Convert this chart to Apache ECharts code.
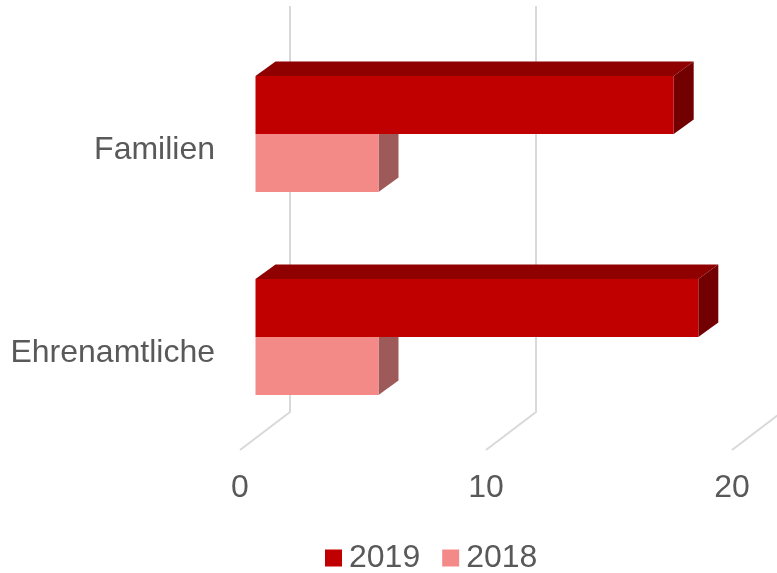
<!DOCTYPE html>
<html>
<head>
<meta charset="utf-8">
<style>
  html, body { margin: 0; padding: 0; background: #fff; }
  #main { width: 777px; height: 573px; }
</style>
<script src="https://cdn.jsdelivr.net/npm/echarts@6/dist/echarts.min.js"></script>
</head>
<body>
<div id="main"></div>
<script>
const categories = ['Familien', 'Ehrenamtliche'];
const values2019 = [17, 18];
const values2018 = [5, 5];
const xTicks = [0, 10, 20];

const chart = echarts.init(document.getElementById('main'), null, {renderer: 'canvas'});

// fake 3d: offsets of the box walls, in pixels
const wallX = 50, wallY = -38;
const barX = 15.5;
const depthX = 20, depthY = -14.5;
const barH = 58;

const box = (color, top, side, dir) => (params, api) => {
  const start = api.coord([0, api.value(1)]);
  const end = api.coord([api.value(0), api.value(1)]);
  const x0 = start[0] + barX;
  const x1 = end[0] + barX;
  const y0 = dir < 0 ? start[1] - barH : start[1];
  const y1 = y0 + barH;
  return {
    type: 'group',
    children: [
      {type: 'polygon', shape: {points: [[x0, y0], [x1, y0], [x1 + depthX, y0 + depthY], [x0 + depthX, y0 + depthY]]}, style: {fill: top}},
      {type: 'polygon', shape: {points: [[x1, y0], [x1 + depthX, y0 + depthY], [x1 + depthX, y1 + depthY], [x1, y1]]}, style: {fill: side}},
      {type: 'rect', shape: {x: x0, y: y0, width: x1 - x0, height: barH}, style: {fill: color}}
    ]
  };
};

const wall = (params, api) => {
  const x = api.coord([api.value(0), 0])[0];
  const floor = params.coordSys.y + params.coordSys.height + 11.5;
  const style = {stroke: '#D9D9D9', lineWidth: 2, fill: 'none'};
  return {
    type: 'polyline',
    shape: {points: [[x, floor], [x + wallX, floor + wallY], [x + wallX, 6]]},
    style
  };
};

const option = {
  animation: false,
  backgroundColor: '#fff',
  textStyle: {fontFamily: '"Liberation Sans", Arial, sans-serif'},
  grid: {left: 240, right: 45, top: 32.5, bottom: 134.5},
  legend: {
    data: ['2019', '2018'],
    left: 320,
    top: 537,
    icon: 'rect',
    itemWidth: 17,
    itemHeight: 17,
    itemGap: 22,
    textStyle: {color: '#595959', fontSize: 32, padding: [0, 0, 0, 2]}
  },
  xAxis: {
    type: 'value',
    min: 0,
    max: 20,
    interval: 10,
    axisLine: {show: false},
    axisTick: {show: false},
    splitLine: {show: false},
    axisLabel: {color: '#595959', fontSize: 32, margin: 34}
  },
  yAxis: {
    type: 'category',
    data: categories,
    inverse: true,
    axisLine: {show: false},
    axisTick: {show: false},
    axisLabel: {color: '#595959', fontSize: 32, margin: 25, verticalAlign: 'top'}
  },
  series: [
    {
      type: 'custom',
      name: 'walls',
      silent: true,
      z: 1,
      renderItem: wall,
      encode: {x: 0},
      data: xTicks.map(t => [t])
    },
    {
      type: 'custom',
      name: '2018',
      z: 2,
      itemStyle: {color: '#F48A87'},
      renderItem: box('#F48A87', '#C46E6C', '#9E5A58', 1),
      encode: {x: 0, y: 1},
      data: values2018.map((v, i) => [v, i])
    },
    {
      type: 'custom',
      name: '2019',
      z: 3,
      itemStyle: {color: '#C00000'},
      renderItem: box('#C00000', '#8F0000', '#730000', -1),
      encode: {x: 0, y: 1},
      data: values2019.map((v, i) => [v, i])
    }
  ]
};

chart.setOption(option);
</script>
</body>
</html>
